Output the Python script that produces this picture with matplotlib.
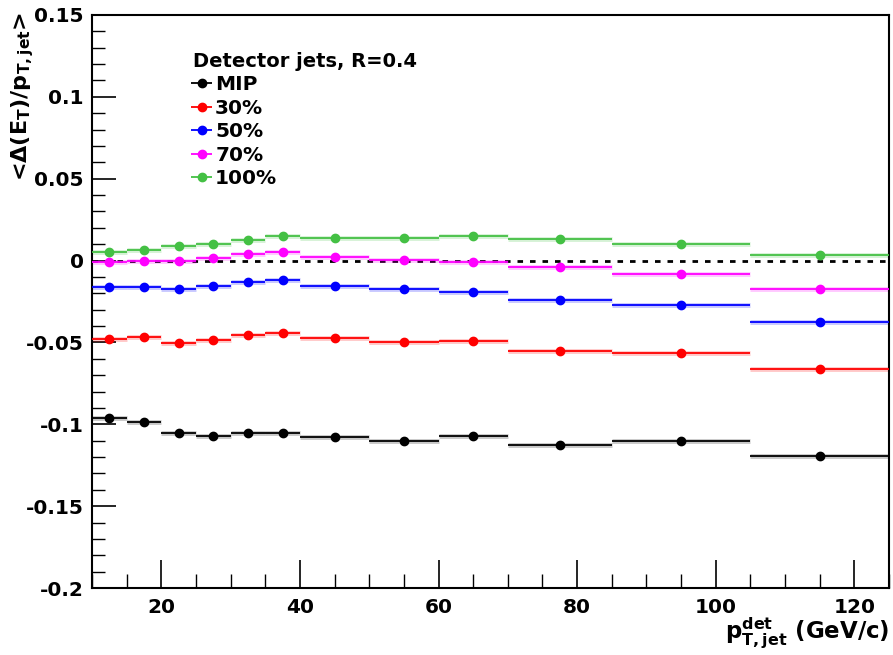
import matplotlib
matplotlib.use("Agg")
import matplotlib.pyplot as plt
import numpy as np
from matplotlib.ticker import MultipleLocator, FixedLocator, FuncFormatter

plt.rcParams['font.family'] = ['DejaVu Sans']
plt.rcParams['font.weight'] = 'bold'
plt.rcParams['mathtext.fontset'] = 'custom'
plt.rcParams['mathtext.rm'] = 'DejaVu Sans:bold'
plt.rcParams['mathtext.it'] = 'DejaVu Sans:bold'
plt.rcParams['mathtext.bf'] = 'DejaVu Sans:bold'
plt.rcParams['mathtext.default'] = 'rm'

bin_edges = [10, 15, 20, 25, 30, 35, 40, 50, 60, 70, 85, 105, 125]
labels = ["MIP", "30%", "50%", "70%", "100%"]
colors = ["black", "#ff0000", "#0000ff", "#ff00ff", "#44c044"]

mip = [-0.0963, -0.0983, -0.1051, -0.1071, -0.1051, -0.1051, -0.1079, -0.1102, -0.1069, -0.1128, -0.1100, -0.1195]
p30 = [-0.0479, -0.0469, -0.0506, -0.0483, -0.0457, -0.0442, -0.0475, -0.0496, -0.0494, -0.0551, -0.0563, -0.0663]
p50 = [-0.0159, -0.0159, -0.0176, -0.0153, -0.0130, -0.0116, -0.0157, -0.0173, -0.0190, -0.0239, -0.0271, -0.0373]
p70 = [-0.0008, -0.0002, 0.0000, 0.0017, 0.0041, 0.0053, 0.0023, 0.0004, -0.0006, -0.0041, -0.0082, -0.0171]
p100 = [0.0051, 0.0067, 0.0090, 0.0104, 0.0127, 0.0153, 0.0136, 0.0139, 0.0153, 0.0130, 0.0100, 0.0031]
series = [mip, p30, p50, p70, p100]

edges = np.array(bin_edges, dtype=float)
centers = 0.5 * (edges[:-1] + edges[1:])
half = 0.5 * (edges[1:] - edges[:-1])

fig = plt.figure(figsize=(8.93, 6.55), dpi=100)
ax = fig.add_axes([92/893, 67/655, 797/893, 573/655])

ax.axhline(0, color='black', lw=2, ls=(0, (2, 2.5)), zorder=1)

handles = []
for vals, lab, col in zip(series, labels, colors):
    ax.errorbar(centers, vals, xerr=half, fmt='none', ecolor=col, elinewidth=3.5, alpha=0.22, capsize=0)
    h = ax.errorbar(centers, vals, xerr=half, fmt='o', color=col, ms=6, elinewidth=1.3, capsize=0, label=lab, zorder=3)
    handles.append(h)

ax.set_xlim(10, 125)
ax.set_ylim(-0.2, 0.15)
ax.xaxis.set_major_locator(FixedLocator([20, 40, 60, 80, 100, 120]))
ax.xaxis.set_minor_locator(MultipleLocator(5))
ax.yaxis.set_major_locator(MultipleLocator(0.05))
ax.yaxis.set_minor_locator(MultipleLocator(0.01))
ax.tick_params(axis='both', which='both', direction='in', top=False, right=False, labelsize=14.5)
ax.tick_params(axis='y', which='major', length=17, width=1.2, pad=6)
ax.tick_params(axis='y', which='minor', length=9, width=1.0)
ax.tick_params(axis='x', which='major', length=20, width=1.2, pad=7)
ax.tick_params(axis='x', which='minor', length=10, width=1.0)
for s in ax.spines.values():
    s.set_linewidth(1.5)

def yfmt(v, pos):
    if abs(v) < 1e-9:
        return "0"
    return f"{v:.2f}".rstrip('0')
ax.yaxis.set_major_formatter(FuncFormatter(yfmt))

fig.text(23/893, 1 - 12/655, r"<$\Delta$(E$_{T}$)/p$_{T,jet}$>", rotation=90, ha='center', va='top', fontsize=16, fontweight='bold')
fig.text(889/893, 1 - 633/655, r"p$^{det}_{T,jet}$ (GeV/c)", ha='right', va='center', fontsize=16.5, fontweight='bold')

leg = fig.legend(handles=handles, labels=labels, title="Detector jets, R=0.4", loc='upper left',
                 bbox_to_anchor=(193/893, 1 - 52/655),
                 frameon=False, fontsize=14.5, title_fontsize=14, handlelength=0.85, handletextpad=0.25,
                 labelspacing=0.22, borderpad=0, borderaxespad=0, alignment='left')
leg.get_title().set_fontweight('bold')

fig.savefig("out.png", dpi=100)
